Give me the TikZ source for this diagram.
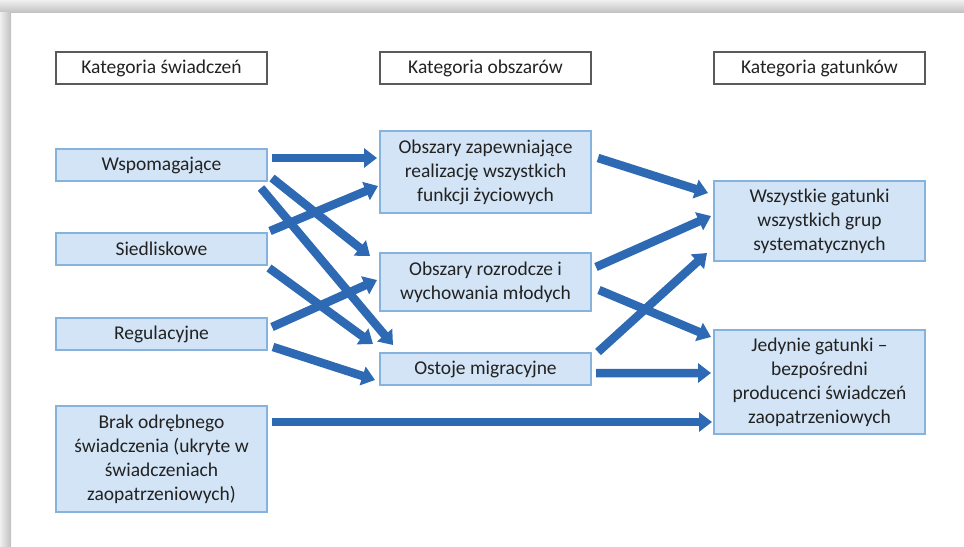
\documentclass[tikz,border=0pt]{standalone}
\usepackage{fontspec}
\setmainfont{Carlito}
\usepackage{xcolor}
\definecolor{cFlow}{HTML}{2E6AB3}
\definecolor{cFill}{HTML}{D2E4F5}
\definecolor{cEdge}{HTML}{86B2DE}
\definecolor{cHead}{HTML}{5A5A5A}
\definecolor{cText}{HTML}{222222}
\usepackage{tikz}
\usetikzlibrary{positioning,arrows.meta}
\tikzset{
  box-head/.style={draw=cHead,line width=1.4bp,fill=white,inner sep=0pt,outer sep=0pt,
    minimum width=211bp,minimum height=32bp,align=center,text=cText,
    font=\fontsize{19.5bp}{24bp}\selectfont},
  box-cat/.style={draw=cEdge,line width=1.4bp,fill=cFill,inner sep=0pt,outer sep=0pt,
    minimum width=211bp,minimum height=32bp,align=center,text=cText,
    font=\fontsize{19.5bp}{24bp}\selectfont},
  % grube strzałki jak w schemacie
  arrow-flow/.style={-{Triangle[length=13bp,width=19bp]},line width=8.5bp,draw=cFlow},
}

\begin{document}
\begin{tikzpicture}[x=1bp,y=-1bp]
  \useasboundingbox (0,0) rectangle (964,547);
  % ramka strony z cieniem
  \shade[top color=gray!12,bottom color=gray!50] (0,0) rectangle (964,13);
  \shade[left color=gray!12,right color=gray!50] (0,13) rectangle (11,547);

  \node[box-head] (hd-sw) at (161.5,68) {Kategoria świadczeń};
  \node[box-head,right=113bp of hd-sw] (hd-ob) {Kategoria obszarów};
  \node[box-head,right=123bp of hd-ob] (hd-ga) {Kategoria gatunków};

  \node[box-cat,below=65bp of hd-sw] (wsp) {Wspomagające};
  \node[box-cat,below=52bp of wsp] (sied) {Siedliskowe};
  \node[box-cat,below=53bp of sied] (reg) {Regulacyjne};
  \node[box-cat,below=56bp of reg,minimum height=106bp] (brak)
    {Brak odrębnego\\świadczenia (ukryte w\\świadczeniach\\zaopatrzeniowych)};

  \node[box-cat,below=47bp of hd-ob,minimum height=82bp] (ob-all)
    {Obszary zapewniające\\realizację wszystkich\\funkcji życiowych};
  \node[box-cat,below=40bp of ob-all,minimum height=58bp] (ob-roz)
    {Obszary rozrodcze i\\wychowania młodych};
  \node[box-cat,below=42bp of ob-roz] (ob-ost) {Ostoje migracyjne};

  \node[box-cat,below=97bp of hd-ga,minimum height=80bp] (ga-all)
    {Wszystkie gatunki\\wszystkich grup\\systematycznych};
  \node[box-cat,below=69bp of ga-all,minimum height=104bp] (ga-jed)
    {Jedynie gatunki –\\bezpośredni\\producenci świadczeń\\zaopatrzeniowych};

  \draw[arrow-flow] ([xshift=5bp,yshift=7bp]wsp.east) -- ([xshift=-3bp,yshift=14bp]ob-all.west);
  \draw[arrow-flow] ([xshift=5bp,yshift=-13bp]wsp.east) -- ([xshift=-10bp,yshift=26bp]ob-roz.west);
  \draw[arrow-flow] ([xshift=-6bp,yshift=-7bp]wsp.south east) -- ([xshift=13bp,yshift=8bp]ob-ost.north west);
  \draw[arrow-flow] ([xshift=3bp,yshift=2bp]sied.north east) -- ([xshift=-2bp,yshift=-14bp]ob-all.west);
  \draw[arrow-flow] ([xshift=2bp,yshift=-3bp]sied.south east) -- ([xshift=-7bp,yshift=9bp]ob-ost.north west);
  \draw[arrow-flow] ([xshift=5bp,yshift=7bp]reg.east) -- ([xshift=-3bp,yshift=2bp]ob-roz.west);
  \draw[arrow-flow] ([xshift=6bp,yshift=-13bp]reg.east) -- ([xshift=-5bp,yshift=-11bp]ob-ost.west);
  \draw[arrow-flow] ([xshift=5bp,yshift=37bp]brak.east) -- ([xshift=-2bp,yshift=-40bp]ga-jed.west);

  \draw[arrow-flow] ([xshift=7bp,yshift=14bp]ob-all.east) -- ([xshift=-6bp,yshift=28bp]ga-all.west);
  \draw[arrow-flow] ([xshift=5bp,yshift=15bp]ob-roz.east) -- ([xshift=-3bp,yshift=5bp]ga-all.west);
  \draw[arrow-flow] ([xshift=8bp,yshift=-8bp]ob-roz.east) -- ([xshift=-3bp,yshift=45bp]ga-jed.west);
  \draw[arrow-flow] ([xshift=7bp,yshift=17bp]ob-ost.east) -- ([xshift=-7bp,yshift=-32bp]ga-all.west);
  \draw[arrow-flow] ([xshift=5bp,yshift=-4bp]ob-ost.east) -- ([xshift=-3bp,yshift=9bp]ga-jed.west);
\end{tikzpicture}
\end{document}
